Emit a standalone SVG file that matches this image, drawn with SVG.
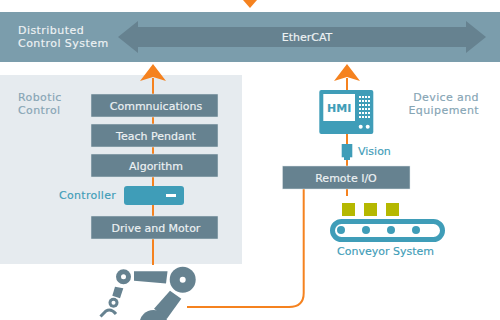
<svg xmlns="http://www.w3.org/2000/svg" width="500" height="320" viewBox="0 0 500 320">
  <style>
    text { font-family: "DejaVu Sans", "Noto Sans", sans-serif; font-size: 11px; stroke-width: 0.15; }
    .bar { fill: #7b9dac; }
    .bus { fill: #668290; }
    .box { fill: #668290; stroke: #dfe5e9; stroke-width: 0.5; }
    .boxlabel { fill: #eef2f4; stroke: #eef2f4; text-anchor: middle; }
    .title { fill: #eef2f4; stroke: #eef2f4; letter-spacing: 0.45px; }
    .steel { fill: #86a5b5; stroke: #86a5b5; letter-spacing: 0.4px; }
    .teal { fill: #3f9db8; }
    .tealtext { fill: #3f9db8; stroke: #3f9db8; }
    .wire { fill: none; stroke: #f5821f; stroke-width: 2; }
    .head { fill: #f5821f; }
    .robot { fill: #668290; }
    .hole { fill: #ffffff; }
    .crate { fill: #b5b800; }
  </style>

  <g id="robotic-control-panel">
    <rect x="0" y="75" width="242" height="189" fill="#e6ebef"/>
    <text class="steel" x="18" y="101">Robotic</text>
    <text class="steel" x="18" y="114">Control</text>
  </g>

  <g id="connectors">
    <polygon class="head" points="243,0 257,0 250,8"/>
    <path class="wire" d="M153 78V265"/>
    <polygon class="head" points="153,64 166,81 153,77 140,81"/>
    <path class="wire" d="M347 78V196"/>
    <polygon class="head" points="347,64 360,81 347,77 334,81"/>
    <path class="wire" d="M303.700 189V293Q303.700 307 289 307H187"/>
  </g>

  <g id="distributed-control-system">
    <rect class="bar" x="0" y="12" width="500" height="50"/>
    <polygon class="bus" points="118,37 138,21 138,27 466,27 466,21 486,37 466,53 466,47 138,47 138,53"/>
    <text class="title" x="18" y="34">Distributed</text>
    <text class="title" x="18" y="47">Control System</text>
    <text class="boxlabel" x="307" y="41">EtherCAT</text>
  </g>

  <g id="communications">
    <rect class="box" x="91" y="94" width="127" height="23"/>
    <text class="boxlabel" x="156" y="110">Commnuications</text>
  </g>
  <g id="teach-pendant">
    <rect class="box" x="91" y="124" width="127" height="23"/>
    <text class="boxlabel" x="156" y="140">Teach Pendant</text>
  </g>
  <g id="algorithm">
    <rect class="box" x="91" y="154" width="127" height="23"/>
    <text class="boxlabel" x="156" y="170">Algorithm</text>
  </g>
  <g id="controller">
    <rect class="teal" x="124" y="186" width="60" height="19" rx="3"/>
    <rect x="166" y="194" width="10" height="3" fill="#ffffff"/>
    <text class="tealtext" x="59" y="199" letter-spacing="0.3">Controller</text>
  </g>
  <g id="drive-and-motor">
    <rect class="box" x="91" y="216" width="127" height="23"/>
    <text class="boxlabel" x="156" y="232">Drive and Motor</text>
  </g>

  <g id="robot-arm">
    <circle class="robot" cx="123.500" cy="276.700" r="7.500"/>
    <circle class="hole" cx="123.500" cy="276.700" r="2.500"/>
    <polygon class="robot" points="134,271.300 167.500,271.300 166,283.500 134,280.700"/>
    <circle class="robot" cx="182.700" cy="279.700" r="13"/>
    <circle class="hole" cx="182.700" cy="279.700" r="3"/>
    <polygon class="robot" points="170,290.700 181.300,298.700 166.700,319 154,308.700"/>
    <circle class="robot" cx="153.500" cy="324" r="14"/>
    <polygon class="robot" points="115,286.700 123.300,288.300 120,298.300 112.300,295.700"/>
    <circle class="robot" cx="113.500" cy="302.700" r="5"/>
    <circle class="hole" cx="113.500" cy="302.700" r="2"/>
    <path d="M100.500 316.500L106 311Q111 308 116 314" fill="none" stroke="#668290" stroke-width="3"/>
  </g>

  <g id="hmi">
    <rect class="teal" x="319.300" y="90" width="54" height="44" rx="2"/>
    <rect x="323.300" y="94" width="31.700" height="27" fill="#ffffff"/>
    <text class="tealtext" x="339.200" y="112" text-anchor="middle" font-weight="700">HMI</text>
    <g fill="#ffffff">
      <rect x="359" y="96" width="2" height="2"/><rect x="362" y="96" width="2" height="2"/><rect x="365" y="96" width="2" height="2"/><rect x="368" y="96" width="2" height="2"/>
      <rect x="359" y="100" width="2" height="2"/><rect x="362" y="100" width="2" height="2"/><rect x="365" y="100" width="2" height="2"/><rect x="368" y="100" width="2" height="2"/>
      <rect x="359" y="104" width="2" height="2"/><rect x="362" y="104" width="2" height="2"/><rect x="365" y="104" width="2" height="2"/><rect x="368" y="104" width="2" height="2"/>
      <rect x="359" y="108" width="2" height="2"/><rect x="362" y="108" width="2" height="2"/><rect x="365" y="108" width="2" height="2"/><rect x="368" y="108" width="2" height="2"/>
      <rect x="359" y="112" width="2" height="2"/><rect x="362" y="112" width="2" height="2"/><rect x="365" y="112" width="2" height="2"/><rect x="368" y="112" width="2" height="2"/>
      <rect x="359" y="116" width="2" height="2"/><rect x="362" y="116" width="2" height="2"/><rect x="365" y="116" width="2" height="2"/><rect x="368" y="116" width="2" height="2"/>
      <circle cx="360.700" cy="126.700" r="2"/>
      <circle cx="367.700" cy="126.700" r="2"/>
    </g>
  </g>

  <g id="device-and-equipment">
    <text class="steel" x="479" y="101" text-anchor="end">Device and</text>
    <text class="steel" x="479" y="114" text-anchor="end">Equipement</text>
  </g>

  <g id="vision">
    <rect class="teal" x="341.700" y="144" width="10.600" height="13.300"/>
    <rect class="teal" x="344" y="157" width="6" height="3"/>
    <text class="tealtext" x="358" y="155">Vision</text>
  </g>

  <g id="remote-io">
    <rect class="box" x="282.500" y="166" width="127.500" height="23"/>
    <text class="boxlabel" x="346" y="182">Remote I/O</text>
  </g>

  <g id="conveyor-system">
    <rect class="crate" x="342" y="203" width="13" height="13"/>
    <rect class="crate" x="364" y="203" width="13" height="13"/>
    <rect class="crate" x="386" y="203" width="13" height="13"/>
    <rect x="332.500" y="221.500" width="110" height="18" rx="9" fill="none" stroke="#3f9db8" stroke-width="5"/>
    <g class="teal">
      <circle cx="341" cy="230" r="4"/>
      <circle cx="366" cy="230" r="4"/>
      <circle cx="391" cy="230" r="4"/>
      <circle cx="416" cy="230" r="4"/>
    </g>
    <text class="tealtext" x="385.500" y="255" text-anchor="middle">Conveyor System</text>
  </g>
</svg>
